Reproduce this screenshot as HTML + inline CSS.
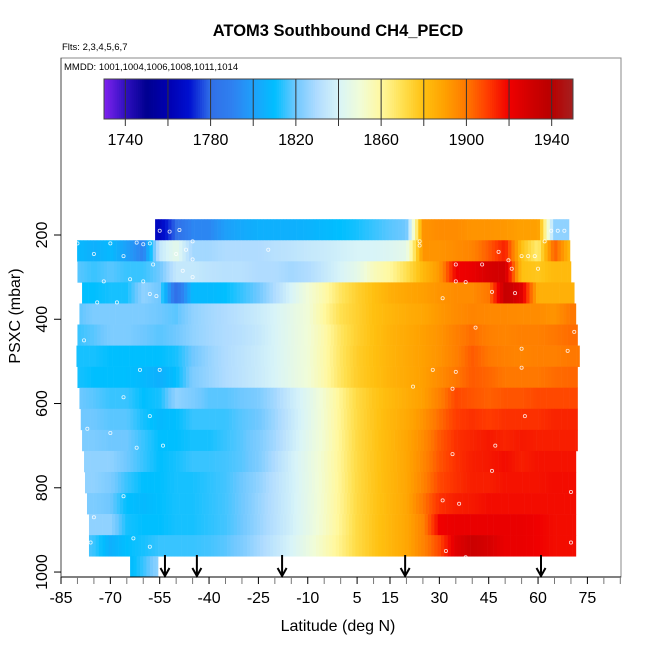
<!DOCTYPE html>
<html><head><meta charset="utf-8"><style>
html,body{margin:0;padding:0;background:#fff}
svg text{font-family:"Liberation Sans",sans-serif}
</style></head><body>
<svg id="chart" width="650" height="650" viewBox="0 0 650 650" xmlns="http://www.w3.org/2000/svg">
<rect width="650" height="650" fill="#fff"/>
<text x="338" y="36" font-size="16.5" font-weight="bold" text-anchor="middle">ATOM3 Southbound CH4_PECD</text>
<text x="62" y="50" font-size="9.5">Flts: 2,3,4,5,6,7</text>
<rect x="61" y="58" width="560" height="519" fill="none" stroke="#888" stroke-width="1"/>
<text x="64" y="70" font-size="9.5">MMDD: 1001,1004,1006,1008,1011,1014</text>
<g id="cbar"></g>
<g id="cells"></g>
<g id="pts"></g>
<g id="arrows"></g>
<g id="axes"></g>
<text x="338" y="631" font-size="16" text-anchor="middle">Latitude (deg N)</text>
<text transform="translate(20,316) rotate(-90)" font-size="16" text-anchor="middle">PSXC (mbar)</text>
</svg>
<script>
const latBins=[-80,-75,-70,-65,-60,-55,-50,-45,-40,-35,-30,-25,-20,-15,-10,-5,0,5,10,15,20,25,30,35,40,45,50,55,60,65,70];
const bandTops=[162.5,212.5,262.5,312.5,362.5,412.5,462.5,512.5,562.5,612.5,662.5,712.5,762.5,812.5,862.5,912.5];
const bandStart=[-56.4,-80.1,-80,-78.6,-79.4,-80,-80.3,-80,-79.4,-79,-78.6,-78,-77.7,-77.1,-76.5,-76.5];
const bandEnd=[69.4,69.7,70,71,71.5,72,72.6,72,72,72,72,71.5,71.5,71.5,71.5,71.5];
const N=null;
const row0=[N,N,N,N,N,1765,1780,1792,1792,1800,1803,1805,1805,1805,1806,1808,1810,1812,1815,1818,1820,1893,1895,1895,1893,1893,1892,1890,1890,1825,1825];
const row1=[1808,1805,1808,1800,1790,1835,1845,1828,1828,1830,1830,1830,1832,1833,1835,1836,1838,1840,1840,1842,1845,1893,1893,1895,1897,1905,1915,1880,1865,1905,1880];
const row2=[1818,1815,1818,1815,1815,1820,1835,1835,1833,1832,1832,1830,1830,1828,1830,1835,1840,1845,1855,1860,1870,1882,1892,1920,1922,1928,1930,1880,1878,1882,1882];
const row3=[1810,1810,1812,1812,1825,1820,1780,1808,1808,1810,1815,1820,1830,1840,1850,1858,1868,1875,1880,1885,1888,1890,1893,1895,1895,1900,1935,1925,1885,1885,1885];
const row4=[1818,1822,1822,1822,1822,1820,1818,1825,1828,1830,1833,1836,1840,1845,1850,1860,1870,1875,1880,1883,1886,1888,1892,1895,1897,1896,1896,1895,1895,1893,1900];
const row5=[1815,1818,1822,1822,1820,1818,1820,1825,1828,1830,1832,1835,1840,1845,1850,1858,1868,1875,1880,1884,1887,1890,1893,1898,1902,1898,1897,1898,1898,1900,1902];
const row6=[1812,1812,1810,1810,1810,1810,1812,1820,1826,1830,1833,1836,1840,1845,1850,1858,1868,1876,1880,1884,1887,1890,1893,1898,1905,1900,1898,1897,1898,1898,1900];
const row7=[1812,1810,1810,1810,1808,1805,1810,1822,1826,1830,1833,1836,1840,1845,1850,1858,1868,1876,1880,1884,1887,1890,1895,1900,1905,1903,1900,1900,1900,1902,1903];
const row8=[1820,1818,1815,1815,1810,1812,1825,1822,1818,1818,1820,1822,1828,1836,1843,1852,1862,1872,1878,1882,1886,1890,1898,1908,1906,1904,1906,1906,1908,1908,1908];
const row9=[1820,1820,1818,1818,1812,1808,1810,1815,1815,1815,1818,1820,1827,1835,1843,1852,1862,1872,1878,1883,1887,1893,1902,1910,1912,1910,1912,1912,1912,1914,1914];
const row10=[1822,1822,1820,1820,1815,1810,1810,1812,1812,1815,1818,1822,1828,1836,1844,1852,1862,1872,1878,1883,1888,1895,1905,1912,1914,1916,1914,1916,1915,1915,1915];
const row11=[1825,1825,1825,1820,1815,1810,1812,1815,1815,1816,1818,1822,1830,1838,1845,1853,1862,1872,1878,1883,1888,1896,1906,1912,1915,1916,1918,1915,1917,1917,1917];
const row12=[1825,1825,1822,1815,1810,1810,1812,1812,1814,1816,1820,1825,1832,1838,1845,1853,1862,1872,1878,1883,1888,1897,1908,1912,1915,1915,1917,1917,1917,1918,1918];
const row13=[1822,1822,1820,1810,1808,1810,1812,1812,1814,1816,1820,1826,1832,1838,1845,1853,1862,1872,1878,1883,1888,1900,1912,1915,1916,1918,1918,1918,1918,1918,1918];
const row14=[1825,1825,1825,1812,1810,1810,1812,1812,1814,1816,1820,1826,1832,1838,1845,1853,1862,1872,1878,1883,1888,1897,1920,1922,1922,1922,1922,1922,1920,1918,1918];
const row15=[1820,1815,1805,1810,1812,1815,1815,1815,1816,1818,1822,1828,1834,1840,1847,1855,1863,1872,1878,1883,1888,1897,1908,1925,1932,1928,1922,1922,1920,1918,1918];
const rows=[row0,row1,row2,row3,row4,row5,row6,row7,row8,row9,row10,row11,row12,row13,row14,row15];
const bottomLats=[-64,-60,-55.5];
const bottomVals=[1808,1815,1825];
const ptLat=[-55,-52,-49,-80,-70,-62,-60,-58,-45,-75,-66,-50,-47,-57,-45,-72,-64,-60,-48,-81,-78,-74,-68,-58,-56,-45,-61,-55,-66,-58,-77,-70,-62,-54,-76,-63,-75,-66,-58,-22,24,64,66,68,24,48,55,57,59,62,35,43,51,52,35,38,46,60,31,53,71,69,41,55,28,35,55,22,34,56,47,34,46,70,31,36,70,32,34,38];
const ptP=[190,192,188,220,220,218,222,220,215,245,250,245,235,270,258,310,305,310,285,440,450,360,360,340,345,300,520,520,585,630,660,670,705,700,930,920,870,820,940,235,225,190,190,190,215,240,250,250,250,215,270,270,260,280,310,312,335,280,350,338,430,475,420,470,520,525,515,560,565,630,700,720,760,810,830,838,930,950,970,965];
const latTicks=[-85,-80,-75,-70,-65,-60,-55,-50,-45,-40,-35,-30,-25,-20,-15,-10,-5,0,5,10,15,20,25,30,35,40,45,50,55,60,65,70,75,80,85];
const latLabels=["-85","-70","-55","-40","-25","-10","5","15","30","45","60","75"];
const pTicks=[200,400,600,800,1000];
const pLabels=["200","400","600","800","1000"];
const arrowLats=[-53.4,-43.7,-17.8,19.6,60.9];
const cbTicks=[1740,1760,1780,1800,1820,1840,1860,1880,1900,1920,1940];
const cbLabels=["1740","1780","1820","1860","1900","1940"];

const X=l=>61+(l+85)*3.29;
const Y=p=>235+(p-200)*0.4213;
const CB=v=>104+(v-1730)*(469/220);
const stops=[[1730,"#8022f0"],[1740,"#3010c0"],[1750,"#000090"],[1760,"#0000b0"],[1770,"#0010d0"],[1780,"#3070e8"],[1790,"#2f80f0"],[1800,"#1ea0fa"],[1810,"#00bfff"],[1820,"#70c8ff"],[1830,"#b0dcff"],[1840,"#d8f4f8"],[1850,"#f0fcd8"],[1860,"#fff8a0"],[1870,"#ffe050"],[1880,"#ffc010"],[1890,"#ffa000"],[1900,"#ff7800"],[1910,"#ff3c00"],[1920,"#f00000"],[1930,"#d00000"],[1940,"#b80000"],[1950,"#a52020"]];
function hex(h){return [1,3,5].map(i=>parseInt(h.substr(i,2),16));}
function color(v){
  if(v<=stops[0][0])return stops[0][1];
  for(let i=1;i<stops.length;i++){
    if(v<=stops[i][0]){const a=stops[i-1],b=stops[i];const t=(v-a[0])/(b[0]-a[0]);
      const ca=hex(a[1]),cb=hex(b[1]);return "rgb("+ca.map((c,k)=>Math.round(c+(cb[k]-c)*t)).join(",")+")";}
  }
  return stops[stops.length-1][1];
}
const NS="http://www.w3.org/2000/svg";
function mk(tag,attrs,parent){const e=document.createElementNS(NS,tag);for(const k in attrs)e.setAttribute(k,attrs[k]);parent.appendChild(e);return e;}
function valAt(arr,lats,l){
  for(let i=0;i<lats.length-1;i++){
    if(l>=lats[i]&&l<=lats[i+1]){const a=arr[i],b=arr[i+1];
      if(a==null)return b; if(b==null)return a;
      return a+(b-a)*(l-lats[i])/(lats[i+1]-lats[i]);}
  }
  if(l<lats[0])return arr[0]!=null?arr[0]:arr[1];
  return arr[arr.length-1];
}
const cbar=document.getElementById('cbar');
for(let v=1730;v<1950;v+=1){
  const r=mk('rect',{x:CB(v),y:79,width:CB(v+1)-CB(v)+0.4,height:40,fill:color(v+0.5)},cbar);
  
  
}
mk('rect',{x:104,y:79,width:469,height:40,fill:'none',stroke:'#444','stroke-width':1},cbar);
cbTicks.forEach(t=>{
  const l=mk('line',{x1:CB(t),x2:CB(t),y1:79,y2:126,stroke:'#333','stroke-width':1},cbar);
  
  
});
cbLabels.forEach(s=>{
  const t=mk('text',{x:CB(+s),y:145,'font-size':16,'text-anchor':'middle'},cbar);t.textContent=s;
  
  
});
const cells=document.getElementById('cells');
rows.forEach((arr,ri)=>{
  const y0=Y(bandTops[ri]),y1=Y(bandTops[ri]+50);
  const s=bandStart[ri],e=bandEnd[ri];
  for(let l=s;l<e;l+=1){
    const l2=Math.min(l+1,e);
    const v=valAt(arr,latBins,(l+l2)/2);
    const r=mk('rect',{x:X(l),y:y0,width:X(l2)-X(l)+0.3,height:y1-y0+0.3,fill:color(v)},cells);
    
    
  }
});
for(let l=bottomLats[0];l<bottomLats[2];l+=1){
  const l2=Math.min(l+1,bottomLats[2]);
  const v=valAt(bottomVals,bottomLats,(l+l2)/2);
  const r=mk('rect',{x:X(l),y:Y(962.5),width:X(l2)-X(l)+0.3,height:Y(1012.5)-Y(962.5),fill:color(v)},cells);
  
  
}
const pts=document.getElementById('pts');
ptLat.forEach((l,i)=>{
  const c=mk('circle',{cx:X(l),cy:Y(ptP[i]),r:1.6,fill:'none',stroke:'#fff','stroke-width':0.8,opacity:0.85},pts);
  
  
});
const arrows=document.getElementById('arrows');
arrowLats.forEach(l=>{
  const g=mk('g',{stroke:'#000','stroke-width':2,fill:'none'},arrows);
  
  
  mk('line',{x1:X(l),x2:X(l),y1:555,y2:576},g);
  mk('polyline',{points:(X(l)-4.5)+",568 "+X(l)+",576 "+(X(l)+4.5)+",568"},g);
});
const axes=document.getElementById('axes');
mk('line',{x1:61,x2:621,y1:577,y2:577,stroke:'#000','stroke-width':1},axes);
mk('line',{x1:61,x2:61,y1:58,y2:577,stroke:'#444','stroke-width':1},axes);
latTicks.forEach(t=>{
  const major=latLabels.indexOf(String(t))>=0;
  const l=mk('line',{x1:X(t),x2:X(t),y1:577,y2:584,stroke:major?'#000':'#777','stroke-width':1},axes);
  
  
});
latLabels.forEach(s=>{
  const t=mk('text',{x:X(+s),y:603,'font-size':16,'text-anchor':'middle'},axes);t.textContent=s;
  
  
});
pTicks.forEach(p=>{
  const l=mk('line',{x1:54,x2:61,y1:Y(p),y2:Y(p),stroke:'#000','stroke-width':1},axes);
  
  
});
pLabels.forEach(s=>{
  const t=mk('text',{transform:"translate(47,"+Y(+s)+") rotate(-90)",'font-size':16,'text-anchor':'middle'},axes);t.textContent=s;
  
  
});
</script>
</body></html>
